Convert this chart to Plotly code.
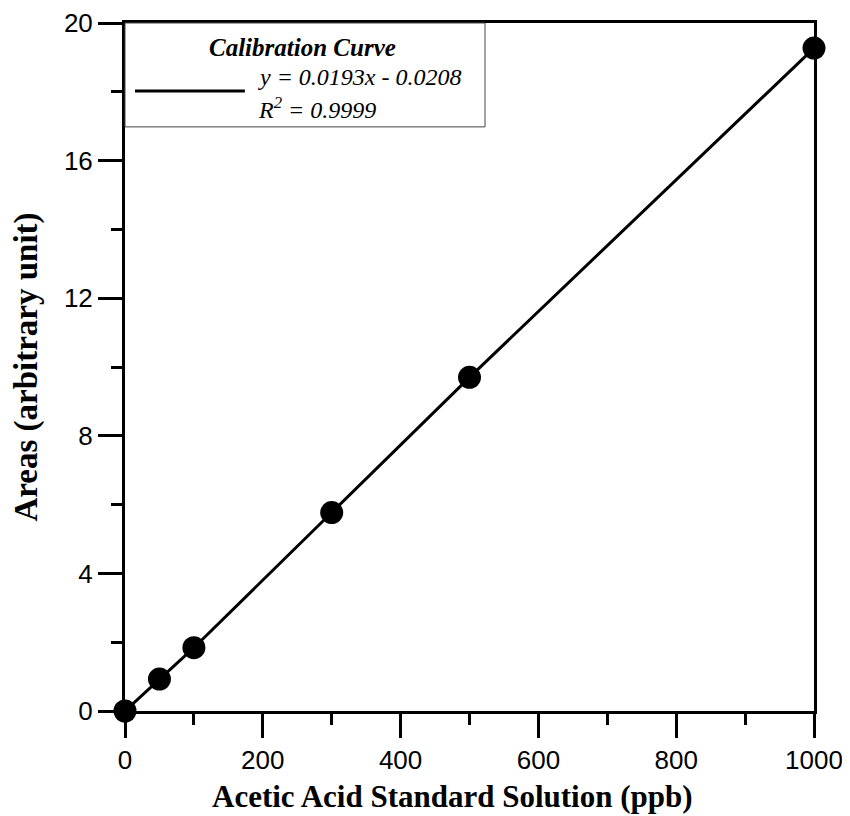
import plotly.graph_objects as go

# Data
concentration_ppb = [0, 50, 100, 300, 500, 1000]
area_values = [0.0, 0.93, 1.84, 5.77, 9.70, 19.27]

x_tick_vals = [0, 200, 400, 600, 800, 1000]
y_tick_vals = [0, 4, 8, 12, 16, 20]

legend_title = "Calibration Curve"
fit_equation = "y = 0.0193x - 0.0208"
fit_r2 = "R<sup>2</sup> = 0.9999"

x_title = "Acetic Acid Standard Solution (ppb)"
y_title = "Areas (arbitrary unit)"

fig = go.Figure()
fig.add_trace(go.Scatter(
    x=concentration_ppb, y=area_values,
    mode="lines+markers",
    line=dict(color="black", width=3),
    marker=dict(color="black", size=23),
    cliponaxis=False,
    showlegend=False,
))

serif = "Liberation Serif, Times New Roman, serif"
sans = "Liberation Sans, Arial, sans-serif"

axis_common = dict(
    showline=True, linewidth=3, linecolor="black", mirror=True,
    showgrid=False, zeroline=False, automargin=False,
    ticks="outside", ticklen=24, tickwidth=3, tickcolor="black",
    tickfont=dict(family=sans, size=26, color="black"),
)

fig.update_xaxes(
    range=[0, 1000], tickvals=x_tick_vals,
    minor=dict(ticks="outside", ticklen=11, tickwidth=3, tickcolor="black", dtick=100, tick0=0),
    **axis_common,
)
fig.update_yaxes(
    range=[0, 20], tickvals=y_tick_vals,
    minor=dict(ticks="outside", ticklen=11, tickwidth=3, tickcolor="black", dtick=2, tick0=0),
    title=dict(text="<b>" + y_title + "</b>", font=dict(family=serif, size=33, color="black"), standoff=18),
    **axis_common,
)

# X-axis title (slightly left of centre, as in the reference)
fig.add_annotation(xref="paper", yref="paper", x=0.475, y=-0.124,
                   text="<b>" + x_title + "</b>", showarrow=False,
                   xanchor="center", yanchor="middle",
                   font=dict(family=serif, size=31, color="black"))

# Legend box drawn as shapes/annotations
fig.add_shape(type="rect", xref="paper", yref="paper",
              x0=0, x1=0.5225, y0=0.849, y1=1.0,
              line=dict(color="#444", width=1), fillcolor="white", layer="above")
fig.add_shape(type="line", xref="paper", yref="paper",
              x0=0.0145, x1=0.174, y0=0.901, y1=0.901,
              line=dict(color="black", width=3))
fig.add_annotation(xref="paper", yref="paper", x=0.258, y=0.964,
                   text="<b><i>" + legend_title + "</i></b>", showarrow=False,
                   xanchor="center", yanchor="middle",
                   font=dict(family=serif, size=25, color="black"))
fig.add_annotation(xref="paper", yref="paper", x=0.19, y=0.921,
                   text="<i>" + fit_equation + "</i>", showarrow=False,
                   xanchor="left", yanchor="middle",
                   font=dict(family=serif, size=24, color="black"))
fig.add_annotation(xref="paper", yref="paper", x=0.19, y=0.876,
                   text="<i>" + fit_r2 + "</i>", showarrow=False,
                   xanchor="left", yanchor="middle",
                   font=dict(family=serif, size=24, color="black"))

fig.update_layout(
    width=842, height=808,
    margin=dict(l=117, r=36, t=15, b=105, autoexpand=False),
    plot_bgcolor="white", paper_bgcolor="white",
)

fig.write_html("out.html")
